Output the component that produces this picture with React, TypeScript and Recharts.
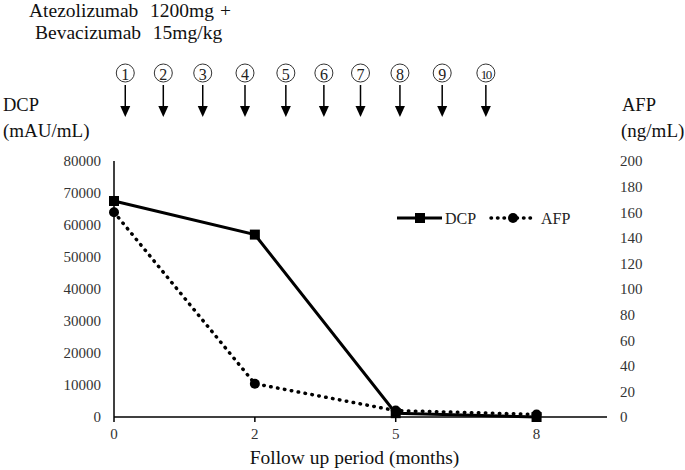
import React from 'react';
import {
  LineChart,
  Line,
  XAxis,
  YAxis,
  Legend,
  ReferenceDot,
} from 'recharts';

// follow up time points (months) and measured markers
const months = ['0', '2', '5', '8'];
const dcpValues = [67500, 57000, 1200, 0];
const afpValues = [160, 26, 5, 2];

// dose administrations (position on the follow-up axis, in category steps)
const doseLabels = ['1', '2', '3', '4', '5', '6', '7', '8', '9', '10'];
const dosePositions = [0.08, 0.35, 0.63, 0.93, 1.22, 1.49, 1.75, 2.03, 2.33, 2.64];

const dcpTicks = [0, 10000, 20000, 30000, 40000, 50000, 60000, 70000, 80000];
const afpTicks = [0, 20, 40, 60, 80, 100, 120, 140, 160, 180, 200];

const data = months.map((m, i) => ({
  idx: i,
  month: m,
  DCP: dcpValues[i],
  AFP: afpValues[i],
}));

const FONT = '"Liberation Serif", "Times New Roman", serif';
const tickStyle = { fill: '#333', fontSize: 15, fontFamily: FONT };

/** Circled dose number with a downward arrow, drawn above the plot */
const DoseMarker = (props: any) => {
  const { cx, cy, label } = props;
  if (cx == null || cy == null) return null;
  const c = cy - 88;
  return (
    <g>
      <circle cx={cx} cy={c} r={9} fill="#fff" stroke="#333" strokeWidth={1} />
      <text
        x={cx}
        y={c + 1}
        textAnchor="middle"
        dominantBaseline="central"
        fontFamily={FONT}
        fontSize={label.length > 1 ? 13 : 16}
        letterSpacing={label.length > 1 ? -1.5 : 0}
        fill="#222"
      >
        {label}
      </text>
      <line x1={cx} y1={cy - 76} x2={cx} y2={cy - 55} stroke="#000" strokeWidth={1.5} />
      <polygon points={`${cx - 5},${cy - 55} ${cx + 5},${cy - 55} ${cx},${cy - 44}`} fill="#000" />
    </g>
  );
};

const SquareDot = (props: any) => {
  const { cx, cy, index } = props;
  if (cx == null || cy == null) return <g key={index} />;
  return <rect key={index} x={cx - 5} y={cy - 5} width={10} height={10} fill="#000" />;
};

const RoundDot = (props: any) => {
  const { cx, cy, index } = props;
  if (cx == null || cy == null) return <g key={index} />;
  return <circle key={index} cx={cx} cy={cy} r={5} fill="#000" />;
};

const CustomLegend = () => (
  <svg width={190} height={22} style={{ display: 'block' }}>
    <line x1={2} y1={11} x2={47} y2={11} stroke="#000" strokeWidth={3} />
    <rect x={20} y={6} width={10} height={10} fill="#000" />
    <text x={50} y={11} dominantBaseline="central" fontFamily={FONT} fontSize={16} fill="#222">
      DCP
    </text>
    <line
      x1={96}
      y1={11}
      x2={136}
      y2={11}
      stroke="#000"
      strokeWidth={3.5}
      strokeDasharray="0.5 6"
      strokeLinecap="round"
    />
    <circle cx={118} cy={11} r={5} fill="#000" />
    <text x={146} y={11} dominantBaseline="central" fontFamily={FONT} fontSize={16} fill="#222">
      AFP
    </text>
  </svg>
);

const textBase: React.CSSProperties = {
  position: 'absolute',
  fontFamily: FONT,
  color: '#111',
  whiteSpace: 'pre',
  lineHeight: 1,
};

export default function App() {
  return (
    <div
      style={{
        position: 'absolute',
        left: 0,
        top: 0,
        width: 685,
        height: 470,
        background: '#fff',
        fontFamily: FONT,
      }}
    >
      <div style={{ ...textBase, left: 29, top: 1, fontSize: 19.5, wordSpacing: 1 }}>Atezolizumab  1200mg +</div>
      <div style={{ ...textBase, left: 35, top: 23, fontSize: 19.5, wordSpacing: 1 }}>Bevacizumab  15mg/kg</div>
      <div style={{ ...textBase, left: 3, top: 96, fontSize: 18.5 }}>DCP</div>
      <div style={{ ...textBase, left: 3, top: 121, fontSize: 19 }}>(mAU/mL)</div>
      <div style={{ ...textBase, left: 622, top: 96, fontSize: 18.5 }}>AFP</div>
      <div style={{ ...textBase, left: 621, top: 121, fontSize: 19 }}>(ng/mL)</div>

      <LineChart
        width={685}
        height={470}
        data={data}
        margin={{ top: 161, right: 0, bottom: 0, left: 0 }}
        style={{ fontFamily: FONT }}
      >
        <XAxis
          dataKey="idx"
          type="number"
          domain={[0, 3.5]}
          ticks={[0, 1, 2, 3]}
          tickFormatter={(v: number) => months[v] ?? ''}
          tick={tickStyle}
          axisLine={{ stroke: '#000', strokeWidth: 1.5 }}
          tickLine={{ stroke: '#000', strokeWidth: 1.5 }}
          tickSize={5}
          tickMargin={6}
          height={53}
          label={{
            value: 'Follow up period (months)',
            position: 'insideBottom',
            offset: 6,
            dx: -6,
            style: { fill: '#111', fontSize: 19.5, fontFamily: FONT },
          }}
        />
        <YAxis
          yAxisId="left"
          orientation="left"
          domain={[0, 80000]}
          ticks={dcpTicks}
          width={114}
          tick={tickStyle}
          axisLine={{ stroke: '#000', strokeWidth: 1.5 }}
          tickLine={false}
          tickMargin={7}
        />
        <YAxis
          yAxisId="right"
          orientation="right"
          domain={[0, 200]}
          ticks={afpTicks}
          width={78}
          tick={{ ...tickStyle, textAnchor: 'start' }}
          axisLine={false}
          tickLine={false}
          tickMargin={7}
        />
        <Legend
          layout="horizontal"
          verticalAlign="middle"
          align="center"
          content={<CustomLegend />}
          wrapperStyle={{ position: 'absolute', left: 395, top: 207, width: 190, height: 22 }}
        />
        <Line
          yAxisId="right"
          dataKey="AFP"
          name="AFP"
          stroke="#000"
          strokeWidth={3.5}
          strokeDasharray="0.5 6.5"
          strokeLinecap="round"
          dot={<RoundDot />}
          activeDot={false}
          isAnimationActive={false}
        />
        <Line
          yAxisId="left"
          dataKey="DCP"
          name="DCP"
          stroke="#000"
          strokeWidth={3}
          dot={<SquareDot />}
          activeDot={false}
          isAnimationActive={false}
        />
        {dosePositions.map((x, i) => (
          <ReferenceDot
            key={`dose-${i}`}
            yAxisId="left"
            x={x}
            y={80000}
            ifOverflow="visible"
            shape={(p: any) => <DoseMarker {...p} label={doseLabels[i]} />}
          />
        ))}
      </LineChart>
    </div>
  );
}
